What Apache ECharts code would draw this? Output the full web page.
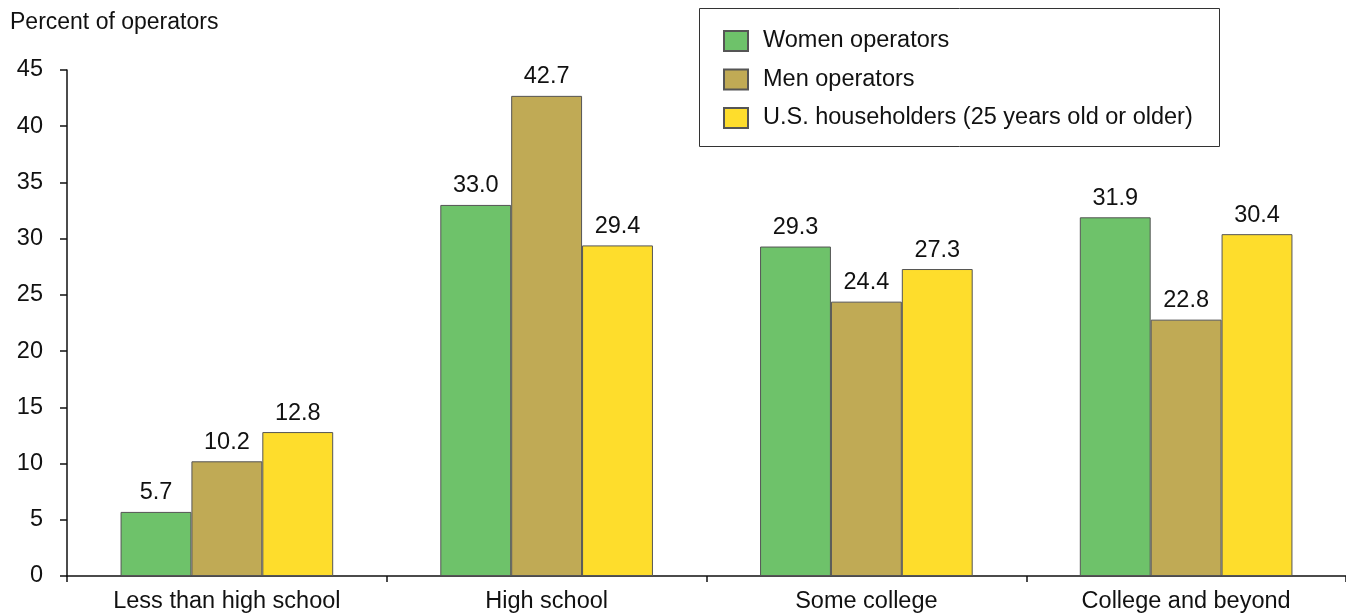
<!DOCTYPE html>
<html>
<head>
<meta charset="utf-8">
<script src="https://cdn.jsdelivr.net/npm/echarts@6/dist/echarts.min.js"></script>
<style>html,body{margin:0;padding:0;background:#fff}#c{width:1346px;height:614px}</style>
</head>
<body>
<div id="c"></div>
<script>
const categories = ["Less than high school", "High school", "Some college", "College and beyond"];
const seriesNames = ["Women operators", "Men operators", "U.S. householders (25 years old or older)"];
const women = [5.7, 33.0, 29.3, 31.9];
const men = [10.2, 42.7, 24.4, 22.8];
const households = [12.8, 29.4, 27.3, 30.4];
const colors = ["#6EC26A", "#C0AA55", "#FEDD2C"];

const font = "'Liberation Sans', Arial, sans-serif";
const fs = 23.5;
const chart = echarts.init(document.getElementById('c'));
const mk = (name, data, color) => ({
  name, type: 'bar', data,
  barGap: '0%', barCategoryGap: '33.5%',
  itemStyle: { color, borderColor: '#555', borderWidth: 1 },
  label: { show: true, position: 'top', distance: 7, color: '#111', fontFamily: font, fontSize: fs,
    formatter: p => p.value.toFixed(1) },
  emphasis: { disabled: true }
});
chart.setOption({
  animation: false,
  textStyle: { fontFamily: font },
  grid: { left: 67, right: 0, top: 70, bottom: 38, containLabel: false },
  graphic: [
    { type: 'rect', shape: { x: 699.5, y: 8.5, width: 520, height: 138 }, style: { fill: '#fff', stroke: '#333', lineWidth: 1 }, z: 0 },
    { type: 'text', left: 10, top: 11, style: { text: 'Percent of operators', font: "23px 'Liberation Sans', Arial, sans-serif", fill: '#111' } }
  ],
  legend: {
    orient: 'vertical', left: 718, top: 24, itemWidth: 24, itemHeight: 20, itemGap: 14.5,
    icon: 'rect',
    data: seriesNames, z: 10,
    textStyle: { fontFamily: font, fontSize: fs, color: '#111', padding: [0, 0, 0, 10] }
  },
  xAxis: {
    type: 'category', data: categories,
    axisLine: { lineStyle: { color: '#111', width: 1.5 } },
    axisTick: { show: true, length: 6, lineStyle: { color: '#111', width: 1.5 } },
    axisLabel: { color: '#111', fontSize: fs, fontFamily: font, margin: 14 }
  },
  yAxis: {
    type: 'value', min: 0, max: 45, interval: 5,
    axisLine: { show: true, lineStyle: { color: '#111', width: 1.5 } },
    axisTick: { show: true, length: 7, lineStyle: { color: '#111', width: 1.5 } },
    splitLine: { show: false },
    axisLabel: { color: '#111', fontSize: fs, fontFamily: font, margin: 24 }
  },
  series: [mk(seriesNames[0], women, colors[0]), mk(seriesNames[1], men, colors[1]), mk(seriesNames[2], households, colors[2])]
});
</script>
</body>
</html>
